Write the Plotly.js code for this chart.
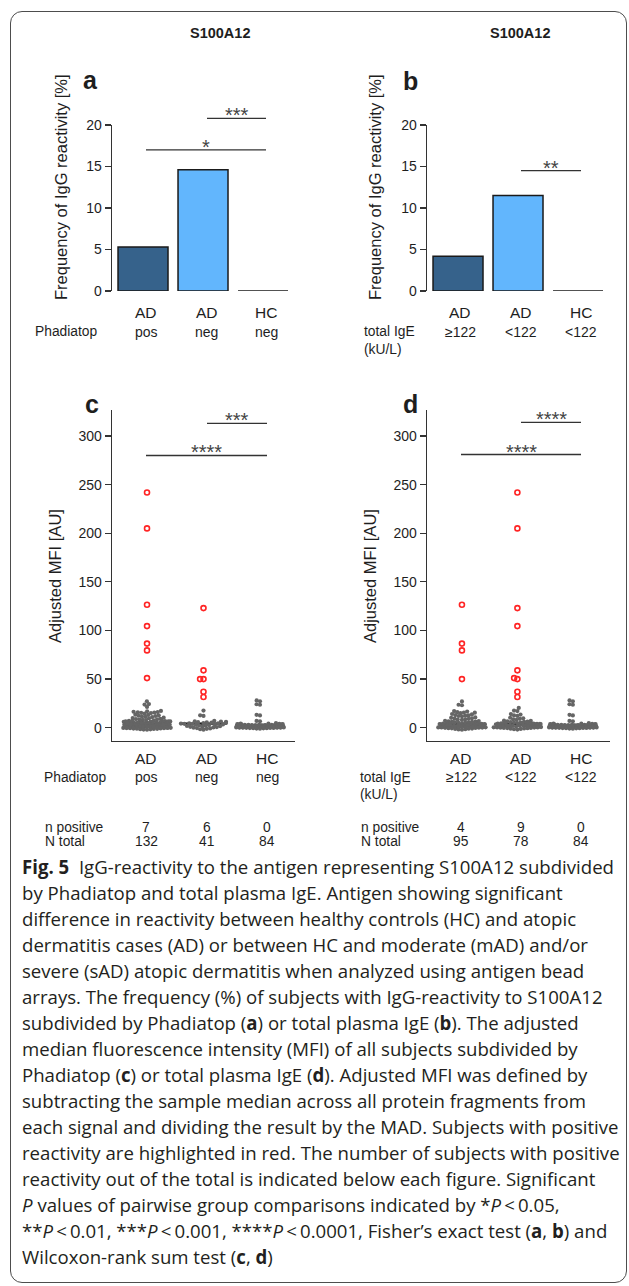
<!DOCTYPE html>
<html><head><meta charset="utf-8">
<script src="https://cdn.plot.ly/plotly-3.0.1.min.js"></script>
<style>
html,body{margin:0;padding:0;background:#fff;}
#wrap{position:relative;width:629px;height:1286px;overflow:hidden;background:#fff;}
#chart{position:absolute;left:0;top:0;width:629px;height:1286px;}
#frame{position:absolute;left:10px;top:11px;width:617px;height:1272px;border:1.3px solid #4d4d4d;border-radius:12px;box-sizing:border-box;pointer-events:none;}
#caption{position:absolute;left:22px;top:854px;font-family:"Open Sans",sans-serif;font-size:19px;color:#231f20;white-space:nowrap;transform-origin:0 0;}
#caption div{height:26px;line-height:26px;}
</style></head>
<body>
<div id="wrap">
<div id="chart"></div>
<div id="frame"></div>
<div id="caption">
<div id="cap1"><b>Fig. 5</b>&nbsp; IgG-reactivity to the antigen representing S100A12 subdivided</div>
<div>by Phadiatop and total plasma IgE. Antigen showing significant</div>
<div>difference in reactivity between healthy controls (HC) and atopic</div>
<div>dermatitis cases (AD) or between HC and moderate (mAD) and/or</div>
<div>severe (sAD) atopic dermatitis when analyzed using antigen bead</div>
<div>arrays. The frequency (%) of subjects with IgG-reactivity to S100A12</div>
<div>subdivided by Phadiatop (<b>a</b>) or total plasma IgE (<b>b</b>). The adjusted</div>
<div>median fluorescence intensity (MFI) of all subjects subdivided by</div>
<div>Phadiatop (<b>c</b>) or total plasma IgE (<b>d</b>). Adjusted MFI was defined by</div>
<div>subtracting the sample median across all protein fragments from</div>
<div>each signal and dividing the result by the MAD. Subjects with positive</div>
<div>reactivity are highlighted in red. The number of subjects with positive</div>
<div>reactivity out of the total is indicated below each figure. Significant</div>
<div><i>P</i> values of pairwise group comparisons indicated by *<i>P</i>&thinsp;&lt;&thinsp;0.05,</div>
<div>**<i>P</i>&thinsp;&lt;&thinsp;0.01, ***<i>P</i>&thinsp;&lt;&thinsp;0.001, ****<i>P</i>&thinsp;&lt;&thinsp;0.0001, Fisher’s exact test (<b>a</b>, <b>b</b>) and</div>
<div>Wilcoxon-rank sum test (<b>c</b>, <b>d</b>)</div>
</div>
</div>
<script>
// ---------------- DATA ----------------
const panelTitle = 'S100A12';
const catTop = ['AD', 'AD', 'HC'];
const catBottomPhadiatop = ['pos', 'neg', 'neg'];
const catBottomIgE = ['≥122', '<122', '<122'];
const freqPhadiatop = [5.3, 14.6, 0];      // panel a, %
const freqIgE = [4.2, 11.5, 0];            // panel b, %
const nPositivePhadiatop = [7, 6, 0];
const nTotalPhadiatop = [132, 41, 84];
const nPositiveIgE = [4, 9, 0];
const nTotalIgE = [95, 78, 84];
const sigA = [[0, 2, 17.0, '*'], [1, 2, 20.8, '***']];
const sigB = [[1, 2, 14.5, '**']];
const sigC = [[0, 2, 280, '****'], [1, 2, 313, '***']];
const sigD = [[0, 2, 281, '****'], [1, 2, 314, '****']];

// panel c: adjusted MFI by Phadiatop
const redADpos = [242, 205, 126.5, 104.5, 86.5, 79.5, 51];
const redADneg = [123, 59, 50, 50, 37, 31.5];
const redHC = [];
const grayADpos = [27.1, 24.3, 23.8, 21.4,
  17.2, 16.8, 16.4, 16.1, 15.9, 15.6, 15.3, 15.0, 14.6,
  13.4, 13.1, 12.7, 12.3, 12.0, 11.6, 11.2, 10.9,
  10.3, 9.9, 9.6, 9.2, 8.9, 8.6, 8.3, 8.0, 7.8, 7.5,
  7.2, 7.0, 6.9, 6.8, 6.6, 6.5, 6.4, 6.2, 6.1, 6.0, 5.9, 5.8, 5.6, 5.5, 5.4, 5.3, 5.2, 5.1, 5.0, 4.9,
  4.8, 4.7, 4.6, 4.5, 4.4, 4.3, 4.2, 4.1, 4.0, 3.9, 3.9, 3.8, 3.7, 3.6, 3.5, 3.4, 3.3, 3.2, 3.1, 3.0,
  3.0, 2.9, 2.8, 2.7, 2.6, 2.5, 2.5, 2.4, 2.3, 2.2, 2.1, 2.0, 2.0, 1.9, 1.8, 1.7, 1.6, 1.5, 1.5, 1.4,
  1.3, 1.2, 1.1, 1.0, 1.0, 0.9, 0.8, 0.7, 0.6, 0.5, 0.4, 0.3, 0.2, 0.1, 0.0, -0.1, -0.2, -0.3, -0.4, -0.5,
  -0.6, -0.8, -0.9, -1.0, -1.2, -1.3, -1.5, -1.7, -1.9, -2.1, 4.4, 3.6, 2.8, 1.6];
const grayADneg = [17.6, 12.7, 12.1,
  7.1, 6.6, 6.2, 6.0, 5.7, 5.4, 5.1, 4.9, 4.7, 4.5, 4.4, 4.2, 4.0, 3.8, 3.5, 3.3,
  3.0, 2.7, 2.4, 2.1, 1.8, 1.5, 1.2, 0.9, 0.6, 0.3, 0.0, -0.4, -0.8, -1.2, -1.6, -2.1];
const grayHC = [28.0, 27.2, 24.1, 23.6, 13.2, 12.6, 7.0, 6.6,
  4.6, 4.3, 4.1, 3.9, 3.8, 3.6, 3.5, 3.4, 3.3, 3.2, 3.1, 3.0, 2.9, 2.8, 2.8, 2.7, 2.6, 2.5, 2.5, 2.4,
  2.3, 2.3, 2.2, 2.1, 2.1, 2.0, 2.0, 1.9, 1.9, 1.8, 1.8, 1.7, 1.7, 1.6, 1.6, 1.5, 1.5, 1.4, 1.4, 1.3,
  1.3, 1.2, 1.2, 1.1, 1.1, 1.0, 1.0, 0.9, 0.9, 0.8, 0.8, 0.7, 0.7, 0.6, 0.6, 0.5, 0.5, 0.4, 0.4, 0.3,
  0.3, 0.2, 0.2, 0.1, 0.1, 0.0, 0.0, -0.1, -0.2, -0.3, -0.4, -0.5, -0.6, -0.7, -0.9, -1.1];

// panel d: adjusted MFI by total IgE
const redIgEhigh = [126.5, 86.5, 79.5, 50];
const redIgElow = [242, 205, 123, 104.5, 59, 50, 51, 37, 31.5];
const grayIgEhigh = [27.0, 23.6, 23.1,
  17.1, 16.6, 16.0, 15.6, 15.4, 14.9,
  14.1, 13.6, 13.0, 12.6, 12.4, 12.0, 11.7,
  10.6, 10.1, 9.7, 9.4, 9.0, 8.6, 8.3, 8.0,
  7.1, 6.8, 6.6, 6.3, 6.1, 5.9, 5.7, 5.5, 5.3, 5.1, 4.9, 4.8, 4.6, 4.5, 4.3, 4.2, 4.0, 3.9, 3.8, 3.6,
  3.5, 3.4, 3.2, 3.1, 3.0, 2.9, 2.7, 2.6, 2.5, 2.4, 2.3, 2.2, 2.0, 1.9, 1.8, 1.7, 1.6, 1.5, 1.4, 1.3,
  1.2, 1.1, 1.0, 0.9, 0.8, 0.7, 0.6, 0.5, 0.4, 0.3, 0.2, 0.1, 0.0, -0.1, -0.3, -0.5, -0.7, -0.9, -1.1, -1.3,
  -1.5, -1.8, -2.0, 4.1, 3.3, 2.1, 1.0];
const grayIgElow = [20.3, 17.6, 17.1, 14.0, 13.5, 12.6, 12.1, 10.2, 9.6, 9.1, 8.6, 8.1,
  7.2, 6.9, 6.5, 6.2, 6.0, 5.8, 5.5, 5.3, 5.1, 4.9, 4.7, 4.5, 4.3, 4.1, 3.9, 3.7, 3.5, 3.4, 3.2, 3.0,
  2.8, 2.6, 2.4, 2.2, 2.0, 1.8, 1.6, 1.4, 1.2, 1.0, 0.8, 0.6, 0.4, 0.2, 0.0, -0.2, -0.4, -0.6, -0.8, -1.0,
  -1.3, -1.6, -1.9, 5.6, 4.4, 3.6, 2.9, 2.1, 1.5, 0.9, 0.3, -0.3, 4.0, 3.3, 2.5, 1.1, 0.1];

// ---------------- LAYOUT HELPERS ----------------
const W = 629, H = 1286;
const fx = p => p / W;
const fy = p => 1 - p / H;
const FONT = 'Liberation Sans, Arial, sans-serif';
const TXT = '#1e1e1e';
const AX = '#333333';
const geo = {
  a: {ax: '', left: 112, right: 295, top: 125, bottom: 291, yr: [0, 20], xr: [-0.517, 2.533], labels: [146, 207, 266]},
  b: {ax: '2', left: 427, right: 610, top: 125, bottom: 291, yr: [0, 20], xr: [-0.517, 2.533], labels: [460, 521, 581]},
  c: {ax: '3', left: 112, right: 295, top: 410, bottom: 741, yr: [-13.7, 326.8], xr: [-0.62, 2.62], labels: [146, 207, 267]},
  d: {ax: '4', left: 427, right: 610, top: 410, bottom: 741, yr: [-13.7, 326.8], xr: [-0.63, 2.67], labels: [461, 521, 581]}
};
const valPx = (g, v) => g.bottom - (v - g.yr[0]) / (g.yr[1] - g.yr[0]) * (g.bottom - g.top);
const pxPerUnitY = g => (g.bottom - g.top) / (g.yr[1] - g.yr[0]);
const pxPerCat = g => (g.right - g.left) / (g.xr[1] - g.xr[0]);

// beeswarm layout (swarm, ascending priority, wrap corral) computed in pixels
function swarm(vals, yScale, D, half) {
  const order = vals.map((v, i) => i).sort((a, b) => vals[a] - vals[b]);
  const placed = [];
  const xs = new Array(vals.length);
  for (const i of order) {
    const y = vals[i] * yScale;
    const near = placed.filter(p => Math.abs(p.y - y) < D);
    const cands = [0];
    for (const p of near) {
      const dx = Math.sqrt(D * D - (p.y - y) * (p.y - y));
      cands.push(p.x + dx, p.x - dx);
    }
    cands.sort((a, b) => Math.abs(a) - Math.abs(b) || a - b);
    let best = 0;
    for (const c of cands) {
      if (near.every(p => (p.x - c) * (p.x - c) + (p.y - y) * (p.y - y) >= D * D - 1e-6)) { best = c; break; }
    }
    placed.push({x: best, y});
    xs[i] = best;
  }
  return xs.map(x => Math.abs(x) <= half ? x : (((x + half) % (2 * half)) + 2 * half) % (2 * half) - half);
}
const median = arr => { const s = [...arr].sort((a, b) => a - b); const n = s.length; return n % 2 ? s[(n - 1) / 2] : (s[n / 2 - 1] + s[n / 2]) / 2; };

const traces = [];
const barColors = ['#36628b', '#62b6fd', '#62b6fd'];
function addBars(g, vals) {
  traces.push({type: 'bar', x: [0, 1, 2], y: vals, xaxis: 'x' + g.ax, yaxis: 'y' + g.ax, width: 0.833,
    marker: {color: barColors, line: {color: '#1a1a1a', width: 1.5}}, cliponaxis: false, hoverinfo: 'skip'});
}
addBars(geo.a, freqPhadiatop);
addBars(geo.b, freqIgE);

function addSwarm(g, grays, reds) {
  const ys = pxPerUnitY(g), cp = pxPerCat(g);
  const medX = [], medY = [];
  const gx = [], gy = [], rx = [], ry = [];
  for (let k = 0; k < 3; k++) {
    const all = grays[k].concat(reds[k]);
    const off = swarm(all, ys, 3.4, 24);
    all.forEach((v, i) => {
      const xv = k + off[i] / cp;
      if (i < grays[k].length) { gx.push(xv); gy.push(v); } else { rx.push(xv); ry.push(v); }
    });
    const m = median(all);
    medX.push(k - 0.41, k + 0.41, null); medY.push(m, m, null);
  }
  const xa = 'x' + g.ax, ya = 'y' + g.ax;
  traces.push({type: 'scatter', mode: 'lines', x: medX, y: medY, xaxis: xa, yaxis: ya, line: {color: '#000', width: 2.2}, hoverinfo: 'skip'});
  traces.push({type: 'scatter', mode: 'markers', x: gx, y: gy, xaxis: xa, yaxis: ya, marker: {color: '#656565', size: 4.2, line: {width: 0}}, hoverinfo: 'skip'});
  traces.push({type: 'scatter', mode: 'markers', x: rx, y: ry, xaxis: xa, yaxis: ya, marker: {symbol: 'circle-open', color: '#ff2424', size: 5, line: {width: 1.6, color: '#ff2424'}}, hoverinfo: 'skip'});
}
addSwarm(geo.c, [grayADpos, grayADneg, grayHC], [redADpos, redADneg, redHC]);
addSwarm(geo.d, [grayIgEhigh, grayIgElow, grayHC], [redIgEhigh, redIgElow, redHC]);

const layout = {width: W, height: H, margin: {l: 0, r: 0, t: 0, b: 0}, showlegend: false,
  paper_bgcolor: 'rgba(0,0,0,0)', plot_bgcolor: 'rgba(0,0,0,0)', font: {family: FONT, color: TXT},
  annotations: [], shapes: []};

function axes(g, yticks, showX) {
  layout['xaxis' + g.ax] = {domain: [fx(g.left), fx(g.right)], range: g.xr, anchor: 'y' + g.ax,
    showline: showX, linecolor: AX, linewidth: 1.3, showticklabels: false, ticks: '', showgrid: false, zeroline: false, fixedrange: true};
  layout['yaxis' + g.ax] = {domain: [fy(g.bottom), fy(g.top)], range: g.yr, anchor: 'x' + g.ax,
    showline: true, linecolor: AX, linewidth: 1.3, ticks: 'outside', ticklen: 6, tickwidth: 1.2, tickcolor: AX,
    tickvals: yticks, tickfont: {size: 14, color: TXT, family: FONT}, showgrid: false, zeroline: false, fixedrange: true};
}
axes(geo.a, [0, 5, 10, 15, 20], false);
axes(geo.b, [0, 5, 10, 15, 20], false);
axes(geo.c, [0, 50, 100, 150, 200, 250, 300], true);
axes(geo.d, [0, 50, 100, 150, 200, 250, 300], true);

function T(text, x, y, size, opts) {
  layout.annotations.push(Object.assign({text, xref: 'paper', yref: 'paper', x: fx(x), y: fy(y), showarrow: false,
    xanchor: 'center', yanchor: 'middle', font: {size, color: TXT, family: FONT}}, opts || {}));
}
// headers and panel letters
T('<b>' + panelTitle + '</b>', 220, 33, 14.5);
T('<b>' + panelTitle + '</b>', 520, 33, 14.5);
T('<b>a</b>', 90, 80, 25);
T('<b>b</b>', 410, 81, 25);
T('<b>c</b>', 92, 404, 25);
T('<b>d</b>', 410, 404, 25);
// y-axis titles
T('Frequency of IgG reactivity [%]', 61, 187, 16.5, {textangle: -90});
T('Frequency of IgG reactivity [%]', 375, 187, 16.5, {textangle: -90});
T('Adjusted MFI [AU]', 55, 576, 16.5, {textangle: -90});
T('Adjusted MFI [AU]', 370, 576, 16.5, {textangle: -90});

// category labels
function catLabels(g, y1, bottom, groupLabel, groupX, extra) {
  for (let k = 0; k < 3; k++) {
    T(catTop[k], g.labels[k], y1, 15.5);
    T(bottom[k], g.labels[k], y1 + 19, 14);
  }
  T(groupLabel, groupX, y1 + 19, 13.8, {xanchor: 'left'});
  if (extra) T(extra, groupX, y1 + 36, 13.8, {xanchor: 'left'});
}
catLabels(geo.a, 313, catBottomPhadiatop, 'Phadiatop', 33);
catLabels(geo.b, 313, catBottomIgE, 'total IgE', 362, '(kU/L)');
catLabels(geo.c, 758, catBottomPhadiatop, 'Phadiatop', 42);
catLabels(geo.d, 758, catBottomIgE, 'total IgE', 358, '(kU/L)');

// counts
function counts(g, pos, tot, lx) {
  T('n positive', lx, 827, 13.8, {xanchor: 'left'});
  T('N total', lx, 842, 13.8, {xanchor: 'left'});
  for (let k = 0; k < 3; k++) {
    T(String(pos[k]), g.labels[k], 827, 13.8);
    T(String(tot[k]), g.labels[k], 842, 13.8);
  }
}
counts(geo.c, nPositivePhadiatop, nTotalPhadiatop, 43);
counts(geo.d, nPositiveIgE, nTotalIgE, 359);

// significance brackets
function sig(g, list) {
  for (const [i, j, v, s] of list) {
    const yp = valPx(g, v);
    layout.shapes.push({type: 'line', xref: 'paper', yref: 'paper', x0: fx(g.labels[i]), x1: fx(g.labels[j]),
      y0: fy(yp), y1: fy(yp), line: {color: AX, width: 1.3}});
    T(s, (g.labels[i] + g.labels[j]) / 2, yp - 3, 20, {font: {size: 20, color: '#444444', family: FONT}});
  }
}
sig(geo.a, sigA); sig(geo.b, sigB); sig(geo.c, sigC); sig(geo.d, sigD);

Plotly.newPlot('chart', traces, layout, {staticPlot: true, displayModeBar: false}).then(() => {
  const cap = document.getElementById('caption');
  const l1 = document.getElementById('cap1');
  const r = document.createRange(); r.selectNodeContents(l1);
  const tw = r.getBoundingClientRect().width;
  cap.style.transform = 'scaleX(' + (592 / tw) + ')';
});
</script>
</body></html>
